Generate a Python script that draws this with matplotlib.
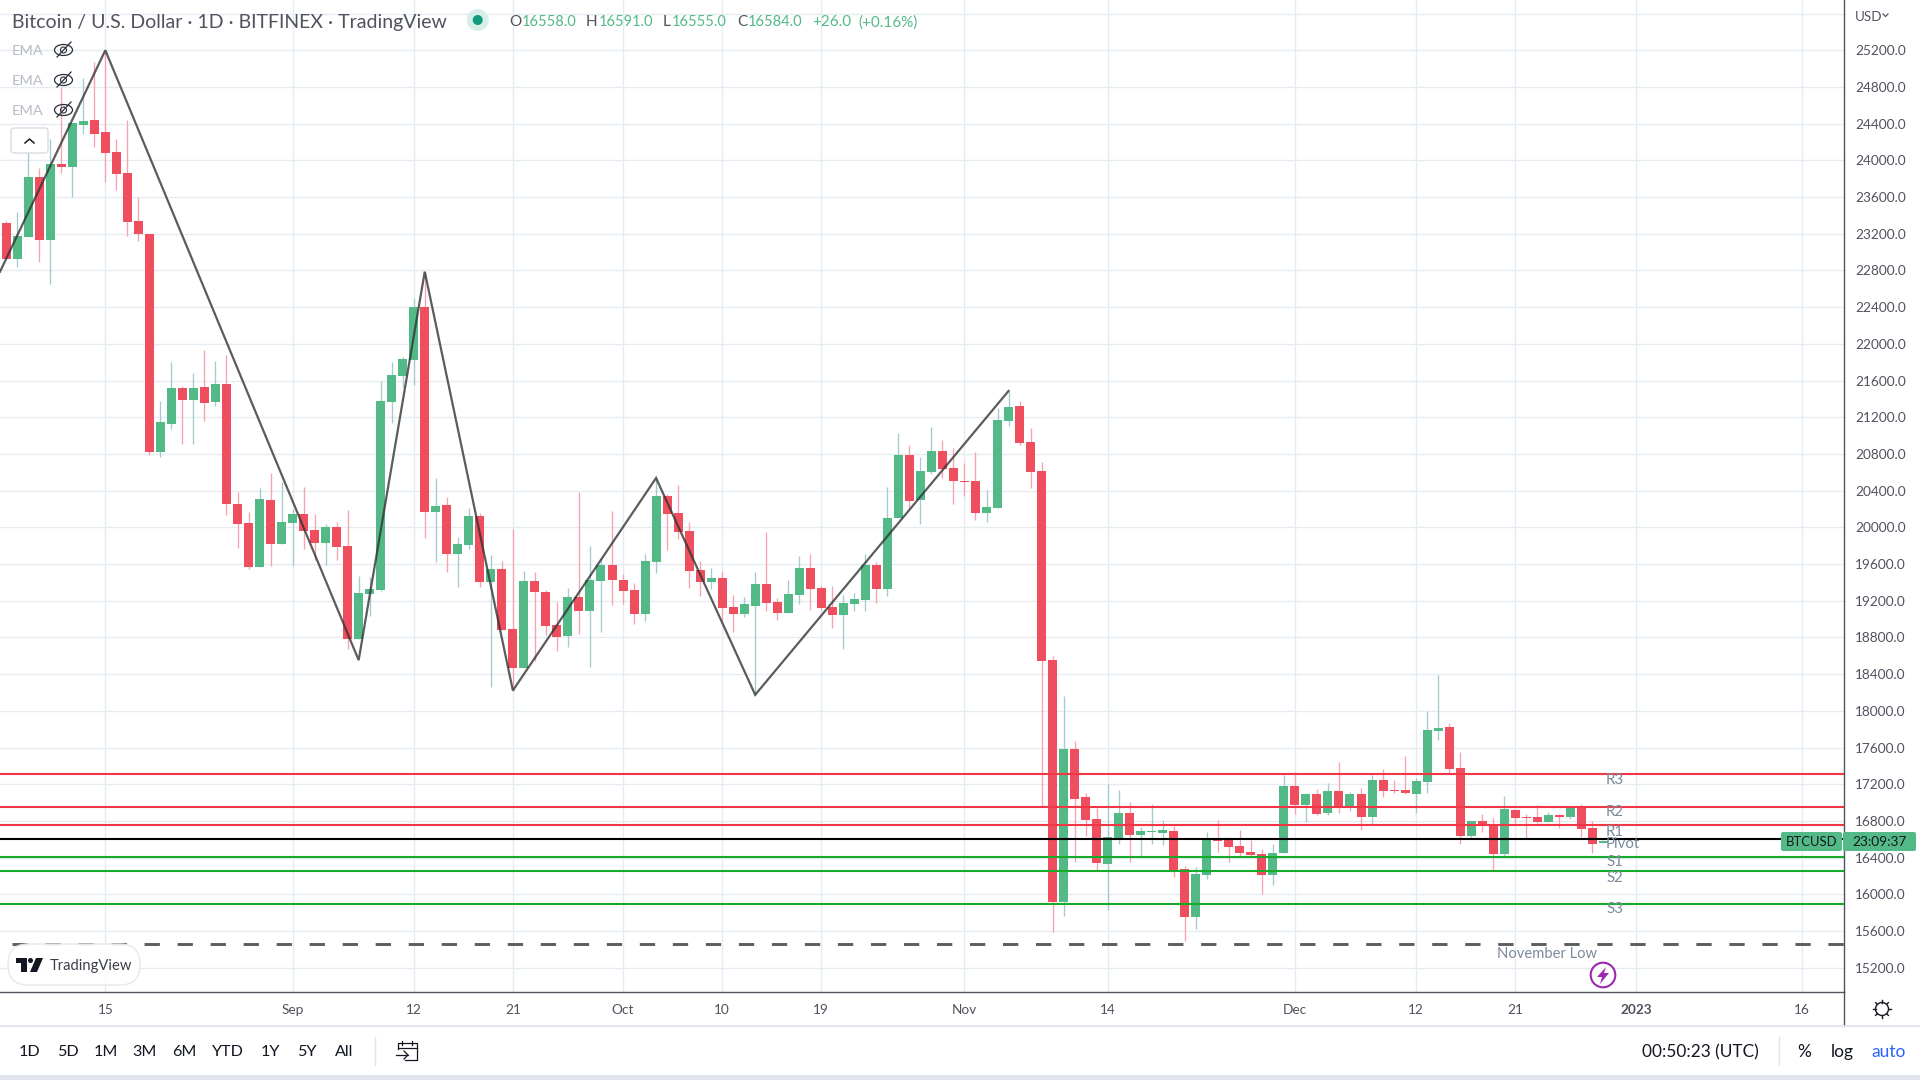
import numpy as np
import matplotlib
matplotlib.use('Agg')
import matplotlib.pyplot as plt
from matplotlib.patches import Circle, Ellipse, FancyBboxPatch, Polygon, Rectangle

FONT = 'Lato'
plt.rcParams['font.family'] = [FONT, 'DejaVu Sans']

# Daily candles
opens = [23317, 22924, 23164, 23818, 23131, 23960, 23927, 24385, 24440, 24309,
         24091, 23862, 23338, 23197, 20822, 21127, 21520, 21389, 21531, 21367,
         21564, 20255, 20048, 19568, 20298, 19818, 20048, 20146, 19971, 19829,
         20004, 19797, 18782, 19273, 19317, 21367, 21651, 21825, 22400, 20167,
         20244, 19709, 19807, 20120, 19400, 19542, 18888, 18462, 19411, 19291,
         18931, 18811, 19237, 19084, 19411, 19586, 19422, 19313, 19051, 19618,
         20338, 20153, 19957, 19531, 19400, 19444, 19128, 19051, 19138, 19378,
         19182, 19062, 19258, 19553, 19335, 19128, 19040, 19160, 19204, 19586,
         19324, 20098, 20786, 20295, 20600, 20829, 20644, 20502, 20502, 20153,
         20207, 21156, 21320, 20927, 20611, 18556, 15917, 17586, 17062, 16822,
         16331, 16615, 16887, 16647, 16680, 16669, 16691, 16277, 15753, 16211,
         16600, 16593, 16527, 16462, 16440, 16211, 16451, 17182, 16975, 17095,
         16887, 17127, 16964, 17095, 16844, 17247, 17138, 17138, 17095, 17225,
         17782, 17826, 17378, 16637, 16800, 16757, 16440, 16920, 16844, 16844,
         16789, 16866, 16844, 16964, 16724, 16558]
closes = [22924, 23175, 23818, 23131, 23960, 23927, 24407, 24429, 24287, 24080,
          23851, 23327, 23197, 20822, 21149, 21520, 21389, 21520, 21356, 21564,
          20255, 20037, 19568, 20309, 19818, 20058, 20146, 19960, 19829, 20004,
          19786, 18782, 19284, 19328, 21378, 21662, 21836, 22400, 20167, 20233,
          19709, 19818, 20124, 19400, 19542, 18877, 18462, 19411, 19291, 18920,
          18800, 19237, 19084, 19422, 19586, 19422, 19302, 19051, 19629, 20338,
          20142, 19946, 19520, 19400, 19444, 19117, 19051, 19160, 19378, 19171,
          19062, 19269, 19553, 19324, 19117, 19040, 19171, 19215, 19586, 19324,
          20098, 20786, 20284, 20611, 20829, 20633, 20502, 20491, 20153, 20218,
          21167, 21309, 20916, 20600, 18549, 15917, 17586, 17040, 16811, 16342,
          16626, 16887, 16647, 16691, 16691, 16702, 16266, 15753, 16222, 16593,
          16585, 16516, 16451, 16429, 16211, 16451, 17182, 16975, 17095, 16877,
          17127, 16953, 17095, 16844, 17247, 17127, 17127, 17105, 17236, 17793,
          17815, 17367, 16637, 16800, 16757, 16440, 16931, 16833, 16833, 16789,
          16866, 16844, 16942, 16713, 16549, 16584]
highs = [23338, 23437, 24100, 23916, 24233, 24804, 24407, 24898, 25073, 25200,
         24233, 24440, 23600, 23197, 21378, 21804, 21542, 21684, 21935, 21815,
         21880, 20386, 20167, 20429, 20593, 20495, 20200, 20440, 20149, 20037,
         20058, 20189, 19469, 19458, 21596, 21804, 21858, 22500, 22786, 20538,
         20331, 19895, 20211, 20160, 19695, 19629, 19978, 19520, 19509, 19313,
         19182, 19335, 20382, 19793, 19651, 20175, 19487, 19389, 19706, 20535,
         20360, 20458, 20055, 19629, 19553, 19520, 19258, 19237, 19509, 19946,
         19226, 19422, 19684, 19706, 19357, 19357, 19258, 19280, 19706, 19618,
         20436, 21026, 20895, 20764, 21091, 20949, 20862, 20698, 20818, 20404,
         21298, 21487, 21375, 21080, 20709, 18600, 18164, 17673, 17106, 16942,
         17204, 17138, 17007, 16735, 16986, 16811, 16746, 16309, 16298, 16680,
         16811, 16626, 16702, 16593, 16495, 16549, 17302, 17335, 17106, 17149,
         17215, 17444, 17117, 17160, 17302, 17367, 17247, 17509, 17270, 18000,
         18393, 17869, 17553, 16800, 16876, 16833, 17073, 16931, 16876, 16975,
         16898, 16876, 16953, 16986, 16800, 16591]
lows = [22924, 22840, 23164, 22891, 22651, 23862, 23600, 24287, 24146, 23764,
        23676, 23175, 23120, 20789, 20767, 21073, 20909, 20909, 21160, 21324,
        20135, 19775, 19546, 19568, 19578, 19818, 19578, 19764, 19644, 19589,
        19644, 18673, 18782, 19033, 19306, 21138, 21535, 21553, 19884, 19622,
        19513, 19349, 19764, 19346, 18258, 18877, 18222, 18462, 18549, 18822,
        18648, 18691, 18833, 18473, 18855, 19149, 19160, 18942, 18975, 19498,
        19749, 19869, 19335, 19247, 19324, 18986, 18855, 19018, 18175, 19084,
        18986, 19062, 19160, 19095, 19095, 18898, 18669, 19084, 19084, 19171,
        19247, 20098, 20207, 20033, 20578, 20535, 20251, 20338, 20077, 20055,
        20207, 21102, 20895, 20426, 16964, 15589, 15764, 16353, 16637, 16266,
        15829, 16549, 16353, 16418, 16549, 16538, 16189, 15491, 15622, 16167,
        16462, 16353, 16418, 16418, 16004, 16102, 16451, 16877, 16789, 16866,
        16860, 16887, 16909, 16702, 16767, 17062, 17105, 17095, 16887, 17106,
        17684, 17324, 16549, 16615, 16680, 16266, 16418, 16767, 16615, 16778,
        16789, 16724, 16822, 16626, 16451, 16555]

zigzag_idx = [-0.56, 9, 32, 38, 46, 59, 68, 91]
zigzag_px = [22787, 25200, 18553, 22787, 18222, 20538, 18175, 21487]

red_levels = [17313, 16953, 16757]
pivot_level = 16604
green_levels = [16407, 16255, 15895]
november_low = 15455

y_ticks = [15200, 15600, 16000, 16400, 16800, 17200, 17600, 18000, 18400,
           18800, 19200, 19600, 20000, 20400, 20800, 21200, 21600, 22000,
           22400, 22800, 23200, 23600, 24000, 24400, 24800, 25200, 25600]
y_labels = ['%d.0' % v for v in y_ticks[:-1]] + ['']
x_ticks = [9, 26, 37, 46, 56, 65, 74, 87, 100, 117, 128, 137, 148, 163]
x_labels = ['15', 'Sep', '12', '21', 'Oct', '10', '19', 'Nov', '14', 'Dec', '12', '21', '2023', '16']

RED = '#ef4e5e'
GREEN = '#53b987'
RED_WICK = '#f7a3af'
GREEN_WICK = '#a2cbcb'
GRID = '#e4ecf2'
AXIS = '#50535e'
LABEL = '#7b8b9c'
DARK = '#131722'

fig = plt.figure(figsize=(19.2, 10.8), dpi=100, facecolor='white')
ax = fig.add_axes([0, (1080 - 992) / 1080, 1844 / 1920, 992 / 1080])

# main chart
ax.set_xlim(-0.563, 166.85)
ax.set_ylim(14936, 25748)
ax.set_yticks(y_ticks)
ax.set_yticklabels(y_labels)
ax.set_xticks(x_ticks)
ax.set_xticklabels(x_labels)
ax.tick_params(axis='y', right=True, labelright=True, left=False, labelleft=False,
               length=0, pad=8, labelsize=9.8, labelcolor='#50535e')
ax.tick_params(axis='x', length=0, pad=9, labelsize=9.8, labelcolor='#50535e')
ax.get_xticklabels()[12].set_fontweight('bold')
ax.grid(True, color=GRID, lw=0.95)
ax.set_axisbelow(True)
for side in ['top', 'left']:
    ax.spines[side].set_visible(False)
for side in ['right', 'bottom']:
    ax.spines[side].set_color(AXIS)
    ax.spines[side].set_linewidth(1.0)

idx = np.arange(len(opens))
o = np.array(opens)
c = np.array(closes)
up = c >= o
wick_cols = [GREEN_WICK if u else RED_WICK for u in up]
body_cols = [GREEN if u else RED for u in up]
ax.vlines(idx, lows, highs, colors=wick_cols, lw=0.95, zorder=2)
ax.bar(idx, np.maximum(np.abs(c - o), 10), bottom=np.minimum(o, c), width=9 / 11.015,
       color=body_cols, linewidth=0, zorder=3)

ax.plot(zigzag_idx, zigzag_px, color='#333333', alpha=0.8, lw=1.6, zorder=4,
        solid_joinstyle='miter')

for lvl in red_levels:
    ax.axhline(lvl, color='#f23645', lw=1.5, zorder=5)
for lvl in green_levels:
    ax.axhline(lvl, color='#17ab2b', lw=1.5, zorder=5)
ax.axhline(pivot_level, color='black', lw=1.5, zorder=5)
ax.plot([0.53, 166.85], [november_low, november_low], color='#5d5d5d', lw=2.1,
        dashes=(5.25, 6.07), zorder=5)

# everything around the chart, drawn in pixel coordinates
ui = fig.add_axes([0, 0, 1, 1], facecolor='none')
ui.set_xlim(0, 1920)
ui.set_ylim(1080, 0)
ui.axis('off')


def label(x, y, s, size=9.8, color=DARK, ha='left', **kw):
    # va center sits a bit high for this font
    ui.text(x, y + 1.3, s, fontsize=size, color=color, ha=ha, va='center', **kw)


ui.plot([1844, 1844], [992, 1026], color=AXIS, lw=1.0)
ui.plot([0, 1920], [1026, 1026], color='#e0e3eb', lw=1.3)
ui.add_patch(Rectangle((0, 1075), 1920, 5, fc='#e0e3eb', ec='none'))

# header
label(12, 21, 'Bitcoin / U.S. Dollar · 1D · BITFINEX · TradingView', size=14.0, color='#50535e')
ui.add_patch(Circle((477.7, 20), 11, fc='#d8efe9', ec='none'))
ui.add_patch(Circle((477.7, 20), 5, fc='#0f9a7e', ec='none'))
for x, s in [(509, 'O'), (586, 'H'), (663, 'L'), (737, 'C')]:
    label(x, 21, s, size=11.0, color='#50535e')
for x, s in [(522, '16558.0'), (599, '16591.0'), (672, '16555.0'), (748, '16584.0')]:
    label(x, 21, s, size=10.5, color=GREEN)
for x, s in [(812, '+26.0'), (858, '(+0.16%)')]:
    label(x, 21, s, size=11.0, color=GREEN)

# hidden EMA rows
for y in [50, 80, 110]:
    label(12, y, 'EMA', size=10.4, color='#b8bbc5')
    ui.add_patch(Ellipse((63.5, y), 18, 11, fc='none', ec='#2a2e39', lw=0.9))
    ui.add_patch(Circle((63.5, y), 3, fc='none', ec='#2a2e39', lw=0.8))
    ui.plot([57, 71], [y + 7, y - 8], color='#2a2e39', lw=0.9)
ui.add_patch(FancyBboxPatch((11, 128), 37, 25, boxstyle='round,pad=0,rounding_size=3',
                            fc='white', ec='#d6d8e0', lw=0.9))
ui.plot([25, 29.5, 34], [143, 139, 143], color=DARK, lw=1.1)

# level names
for y, s in [(779, 'R3'), (810.7, 'R2'), (831, 'R1'), (843, 'Pivot'), (861, 'S1'), (877, 'S2'), (908, 'S3')]:
    label(1606, y, s, size=10.8, color=LABEL)
label(1497, 953, 'November Low', size=10.6, color=LABEL)

# lightning badge
ui.add_patch(Circle((1603, 975), 12.3, fc='white', ec='#9c27b0', lw=1.5))
ui.add_patch(Polygon([(1606, 967), (1597, 977), (1602, 977), (1600, 984), (1609, 973), (1604, 973)],
                     fc='#9c27b0', ec='none'))

# watermark
ui.add_patch(FancyBboxPatch((8, 944), 132, 41, boxstyle='round,pad=0,rounding_size=20',
                            fc='white', ec='#e6e6e8', lw=1.0, alpha=0.92))
ui.add_patch(Polygon([(16, 958), (27, 958), (27, 972), (21, 972), (21, 963), (16, 963)], fc=DARK, ec='none'))
ui.add_patch(Circle((30.5, 960.5), 2.5, fc=DARK, ec='none'))
ui.add_patch(Polygon([(36, 958), (43, 958), (37, 972), (30, 972)], fc=DARK, ec='none'))
label(50, 965, 'TradingView', size=10.6, color='#3a3e49')

# price scale extras
label(1855, 16, 'USD', size=9.6, color='#50535e')
ui.plot([1883, 1885.5, 1888], [14, 16.5, 14], color='#50535e', lw=0.9)
ui.add_patch(FancyBboxPatch((1781, 832), 61, 19, boxstyle='round,pad=0,rounding_size=2', fc=GREEN, ec='none'))
ui.add_patch(FancyBboxPatch((1843, 832), 73, 19, boxstyle='round,pad=0,rounding_size=2', fc=GREEN, ec='none'))
label(1811.5, 840.5, 'BTCUSD', size=9.4, ha='center')
label(1879.5, 840.5, '23:09:37', size=9.8, ha='center')

# settings gear
ui.add_patch(Circle((1882, 1009), 6.5, fc='none', ec=DARK, lw=1.0))
for ang in np.arange(0, 360, 45):
    dx, dy = np.cos(np.radians(ang)), np.sin(np.radians(ang))
    ui.plot([1882 + 6.5 * dx, 1882 + 9 * dx], [1009 + 6.5 * dy, 1009 + 9 * dy], color=DARK, lw=1.0)

# bottom toolbar
ranges = ['1D', '5D', '1M', '3M', '6M', 'YTD', '1Y', '5Y', 'All']
range_x = [30, 68, 106, 145, 184, 227.5, 270, 307, 344]
for x, s in zip(range_x, ranges):
    label(x, 1051, s, size=11.6, ha='center')
ui.plot([375, 375], [1037, 1065], color='#e0e3eb', lw=1.0)
ui.plot([398, 398, 417, 417, 405], [1049, 1043, 1043, 1060, 1060], color=DARK, lw=0.9)
ui.plot([398, 417], [1047.5, 1047.5], color=DARK, lw=0.9)
ui.plot([396, 408], [1055, 1055], color=DARK, lw=0.9)
ui.plot([404, 408, 404], [1051, 1055, 1059], color=DARK, lw=0.9)
ui.plot([402, 402], [1041, 1045], color=DARK, lw=0.9)
ui.plot([412, 412], [1041, 1045], color=DARK, lw=0.9)

label(1642, 1051, '00:50:23 (UTC)', size=12.4)
ui.plot([1779, 1779], [1037, 1065], color='#e0e3eb', lw=1.0)
label(1804, 1051, '%', size=12.5, ha='center')
label(1842, 1051, 'log', size=12.5, ha='center')
label(1889, 1051, 'auto', size=12.5, color='#2962ff', ha='center')

fig.savefig('out.png', dpi=100)
